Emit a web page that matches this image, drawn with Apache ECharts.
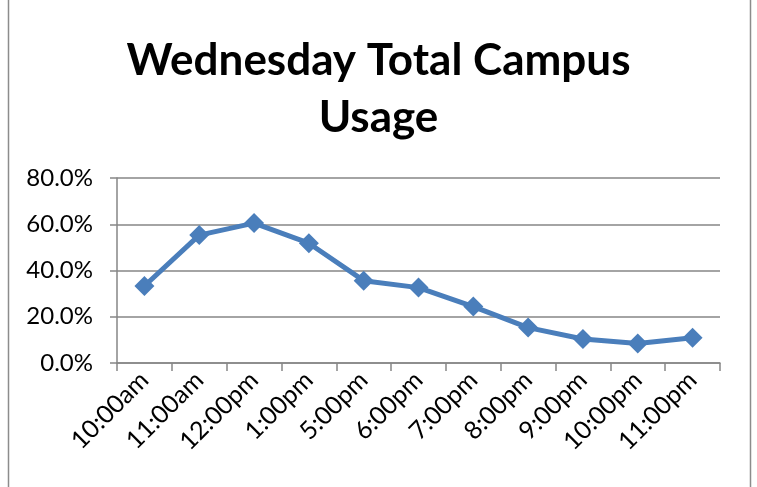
<!DOCTYPE html>
<html><head><meta charset="utf-8">
<script src="https://cdn.jsdelivr.net/npm/echarts@6/dist/echarts.min.js"></script>
<style>html,body{margin:0;padding:0;background:#fff}#c{width:757px;height:487px}</style>
</head><body><div id="c"></div>
<script>
var categories = ['10:00am','11:00am','12:00pm','1:00pm','5:00pm','6:00pm','7:00pm','8:00pm','9:00pm','10:00pm','11:00pm'];
var usage = [0.333, 0.553, 0.605, 0.518, 0.356, 0.326, 0.244, 0.153, 0.104, 0.084, 0.109];
var yTicks = [0, 0.2, 0.4, 0.6, 0.8];
var titleText = 'Wednesday Total Campus\nUsage';

var chart = echarts.init(document.getElementById('c'));
chart.setOption({
  animation: false,
  graphic: [{type:'rect', shape:{x:8.5,y:-2,width:742,height:500}, style:{fill:'none', stroke:'#8c8c8c', lineWidth:1.5}}],
  title: {text: titleText, left: 'center', top: 27,
    textStyle: {fontFamily:'Lato', fontWeight:'bold', fontSize:44, color:'#000', lineHeight:57}},
  grid: {left:117, right:37, top:178, bottom:124},
  xAxis: {type:'category', data:categories, boundaryGap:true,
    axisLine:{lineStyle:{color:'#868686', width:1.5}},
    axisTick:{show:true, length:8, lineStyle:{color:'#868686', width:1.5}},
    axisLabel:{rotate:45, margin:13, fontFamily:'Lato', fontSize:25, color:'#000'}},
  yAxis: {type:'value', min:0, max:0.8, interval:0.2,
    axisLine:{show:true, lineStyle:{color:'#868686', width:1.5}},
    axisTick:{show:true, length:7, lineStyle:{color:'#868686', width:1.5}},
    splitLine:{lineStyle:{color:'#868686', width:1.5}},
    axisLabel:{margin:24, fontFamily:'Lato', fontSize:24, color:'#000',
      formatter:function(v){return (v*100).toFixed(1)+'%';}}},
  series: [{type:'line', data:usage, symbol:'diamond', symbolSize:20,
    lineStyle:{color:'#4a7ebb', width:5}, itemStyle:{color:'#4a7ebb'}}]
});
</script></body></html>
